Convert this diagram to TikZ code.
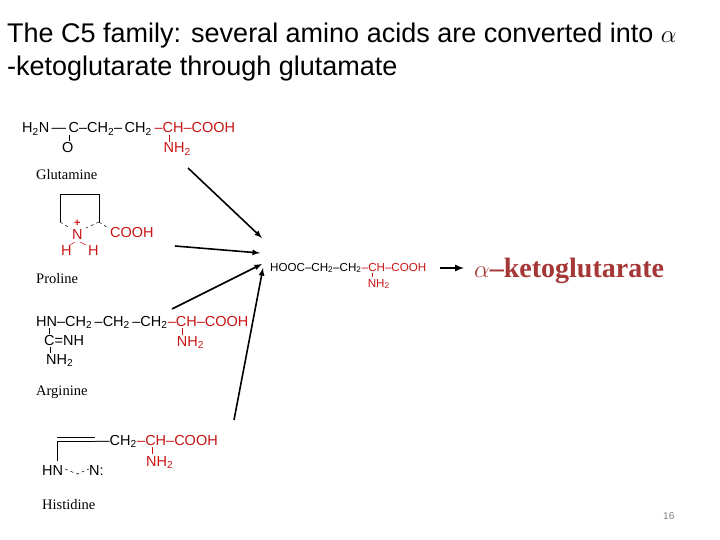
\documentclass[tikz,border=0pt]{standalone}
\usepackage{fontspec}
\setmainfont{Liberation Serif}
\setsansfont{Liberation Sans}
\definecolor{chemred}{RGB}{200,20,20}
\definecolor{ketored}{RGB}{165,55,55}
\begin{document}
\begin{tikzpicture}[x=1pt,y=-1pt,
  chem/.style={anchor=base west,inner sep=0pt,font=\sffamily\fontsize{14.5}{14.5}\selectfont},
  chemr/.style={chem,text=chemred},
  smallchem/.style={anchor=base west,inner sep=0pt,font=\sffamily\fontsize{11.6}{11.6}\selectfont},
  label/.style={anchor=base west,inner sep=0pt,font=\fontsize{14.5}{15}\selectfont},
  bond/.style={line width=0.5pt},
  arr/.style={line width=1.6pt,-{latex}}]
\useasboundingbox (0,0) rectangle (720,540);
% title
\node[anchor=base west,inner sep=0pt,font=\sffamily\fontsize{27}{27}\selectfont] (t1) at (7,43) {The C5 family: several amino acids are converted into $\alpha$};
\node[anchor=base west,inner sep=0pt,font=\sffamily\fontsize{27}{27}\selectfont] (t2) at (7,76) {-ketoglutarate through glutamate};
% Glutamine
\node[chem] (gln1) at (22,133) {H\textsubscript{2}N\,—\,C–CH\textsubscript{2}–\,CH\textsubscript{2}\,};
\node[chemr] (gln2) at (gln1.base east) {–CH–COOH};
\node[chem] (glnO) at (62,153) {O};
\draw[bond] (69,135) -- (69,141);
\node[label] (glnl) at (36,180) {Glutamine};
% Proline
\draw[bond] (60,222) -- (60,194) -- (99,194) -- (99,222);
\draw[bond,dashed] (60,222) -- (70,228);
\draw[bond,dashed] (99,222) -- (108,228);
\draw[bond,dashed] (99,222) -- (86,228);
\node[chemr] (proN) at (72,240) {N};
\node[chemr,font=\sffamily\bfseries\fontsize{11}{11}\selectfont] (proP) at (74,226) {+};
\node[chemr] (proH1) at (61,255) {H};
\node[chemr] (proH2) at (88,255) {H};
\draw[chemred,bond] (75,242) -- (70,245);
\draw[chemred,bond] (80,242) -- (86,245);
\node[chemr] (proC) at (110,237) {COOH};
\node[label] (prol) at (36,283) {Proline};
% Arginine
\node[chem] (arg1) at (36,326) {HN–CH\textsubscript{2}\,–CH\textsubscript{2}\,–CH\textsubscript{2}};
\node[chemr] (arg2) at (arg1.base east) {–CH–COOH};
\node[chem] (arg3) at (44,345) {C=NH};
\node[chem] (arg4) at (46,364) {NH\textsubscript{2}};
\draw[bond] (49,328) -- (49,334);
\draw[bond] (50,347) -- (50,353);
\node[label] (argl) at (36,395) {Arginine};
% Histidine
\draw[bond] (57,437) -- (95,437);
\draw[bond] (57,441) -- (95,441);
\draw[bond] (57,441) -- (57,461);
\node[chem] (his1) at (95,445) {—CH\textsubscript{2}};
\node[chemr] (his2) at (his1.base east) {–CH–COOH};
\node[chem] (hisHN) at (42,475) {HN};
\node[chem] (hisN2) at (89,475) {N:};
\draw[bond,dashed] (65,469) -- (77,474) -- (89,469);
\node[label] (hisl) at (42,509) {Histidine};
% red amino groups below CH
\node[chemr] (glnN) at ([xshift=9pt,yshift=-20pt]gln2.base west) {NH\textsubscript{2}};
\node[chemr] (argN) at ([xshift=9pt,yshift=-20pt]arg2.base west) {NH\textsubscript{2}};
\node[chemr] (hisN) at ([xshift=9pt,yshift=-21pt]his2.base west) {NH\textsubscript{2}};
\draw[chemred,bond] ([xshift=15pt,yshift=-2pt]gln2.base west) -- ([xshift=15pt,yshift=-9pt]gln2.base west);
\draw[chemred,bond] ([xshift=15pt,yshift=-2pt]arg2.base west) -- ([xshift=15pt,yshift=-9pt]arg2.base west);
\draw[chemred,bond] ([xshift=15pt,yshift=-2pt]his2.base west) -- ([xshift=15pt,yshift=-9pt]his2.base west);
% Glutamate
\node[smallchem] (glu1) at (270,271) {HOOC–CH\textsubscript{2}–CH\textsubscript{2}};
\node[smallchem,text=chemred] (glu2) at (glu1.base east) {–CH–COOH};
\node[smallchem,text=chemred] (gluN) at ([xshift=6pt,yshift=-16pt]glu2.base west) {NH\textsubscript{2}};
\draw[chemred,bond] ([xshift=11pt,yshift=-2pt]glu2.base west) -- ([xshift=11pt,yshift=-6pt]glu2.base west);
\coordinate (gin1) at (262,238);
\coordinate (gin2) at (260,253);
\coordinate (gin3) at (262,264);
\coordinate (gin4) at (263,268);
% arrows
\coordinate (a1) at (188,168);
\coordinate (a2) at (175,246);
\coordinate (a3) at (172,309);
\coordinate (a4) at (234,420);
\draw[arr] (a1) -- (gin1);
\draw[arr] (a2) -- (gin2);
\draw[arr] (a3) -- (gin3);
\draw[arr] (a4) -- (gin4);
% product
\node[anchor=base west,inner sep=0pt,text=ketored,font=\bfseries\fontsize{28}{28}\selectfont] (akg) at (474,277) {$\alpha$–ketoglutarate};
\coordinate (ma) at (440,268);
\coordinate (mb) at (464,268);
\draw[line width=2pt,-{latex}] (ma) -- (mb);
\node[anchor=base west,inner sep=0pt,text=gray,font=\sffamily\fontsize{10}{10}\selectfont] (pg) at (663,519) {16};
\end{tikzpicture}
\end{document}
